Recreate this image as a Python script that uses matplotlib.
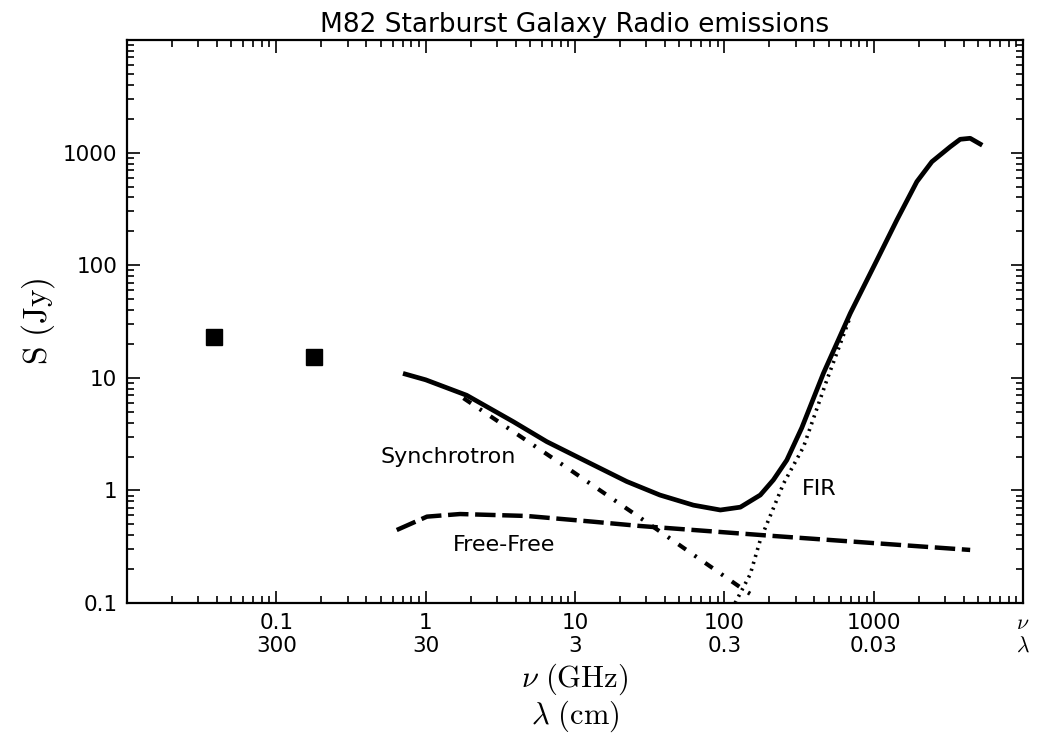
import matplotlib
matplotlib.use("Agg")
import matplotlib.pyplot as plt

# ------------------------------------------------------------
# Dados (nu em GHz, S em Jy)
# ------------------------------------------------------------
nu_obs = [0.038, 0.178]
s_obs = [22.9, 15.4]

nu_total = [0.73, 1.0, 1.88, 3.87, 6.47, 10.8, 22.2, 37, 62, 94, 128, 174, 213, 262,
            330, 461, 697, 1051, 1429, 1945, 2453, 3254, 3793, 4426, 5166]
s_total = [10.8, 9.6, 7.0, 4.07, 2.71, 1.93, 1.2, 0.91, 0.74, 0.67, 0.71, 0.91, 1.24, 1.86,
           3.6, 11.0, 37.4, 111, 252, 552, 830, 1127, 1313, 1340, 1191]

nu_sync = [1.79, 8.6, 28.7, 141, 168]
s_sync = [6.6, 1.63, 0.546, 0.126, 0.11]

nu_ff = [0.64, 1.02, 1.70, 4.75, 13.3, 27.3, 213, 4425]
s_ff = [0.445, 0.585, 0.617, 0.593, 0.527, 0.483, 0.394, 0.296]

nu_fir = [118, 149, 174, 249, 339, 485, 697]
s_fir = [0.1, 0.18, 0.363, 1.15, 2.44, 9.5, 34.9]

xticks = [0.1, 1, 10, 100, 1000, 10000]
xlabels = ["0.1\n300", "1\n30", "10\n3", "100\n0.3", "1000\n0.03", "$\\nu$\n$\\lambda$"]
yticks = [0.1, 1, 10, 100, 1000]
ylabels = ["0.1", "1", "10", "100", "1000"]

# ------------------------------------------------------------
# Figura
# ------------------------------------------------------------
plt.rcParams["mathtext.fontset"] = "cm"

fig = plt.figure(figsize=(10.4, 7.38), dpi=100)
ax = fig.add_axes([0.1221, 0.1829, 0.8616, 0.7629])

ax.plot(nu_obs, s_obs, "ks", ms=11)
ax.plot(nu_total, s_total, color="black", lw=3.4, solid_joinstyle="round")
ax.plot(nu_sync, s_sync, color="black", lw=3, linestyle=(0, (2.2, 2.5, 0.6, 2.5)))
ax.plot(nu_ff, s_ff, color="black", lw=3.2, linestyle=(0, (4.6, 1.5)))
ax.plot(nu_fir, s_fir, color="black", lw=2.6, linestyle=(0, (0.6, 1.4)))

ax.text(0.5, 1.98, "Synchrotron", fontsize=16, ha="left", va="center")
ax.text(1.52, 0.327, "Free-Free", fontsize=16, ha="left", va="center")
ax.text(330, 1.03, "FIR", fontsize=16, ha="left", va="center")

ax.set_xscale("log")
ax.set_yscale("log")
ax.set_xlim(0.01, 10000)
ax.set_ylim(0.1, 10000)

ax.set_xticks(xticks)
ax.set_xticklabels(xlabels)
ax.set_yticks(yticks)
ax.set_yticklabels(ylabels)

ax.tick_params(which="both", direction="in", top=True, right=True, labelsize=15.5, pad=7)
ax.tick_params(which="major", length=9, width=1.2)
ax.tick_params(which="minor", length=5, width=1.2)
for s in ax.spines.values():
    s.set_linewidth(1.6)

ax.set_title("M82 Starburst Galaxy Radio emissions", fontsize=19, pad=6)
ax.set_xlabel("$\\nu\\ \\mathrm{(GHz)}$\n$\\lambda\\ \\mathrm{(cm)}$", fontsize=22,
              labelpad=4, linespacing=1.05)
ax.set_ylabel("$\\mathrm{S\\ (Jy)}$", fontsize=24)

fig.savefig("out.png", dpi=100)
